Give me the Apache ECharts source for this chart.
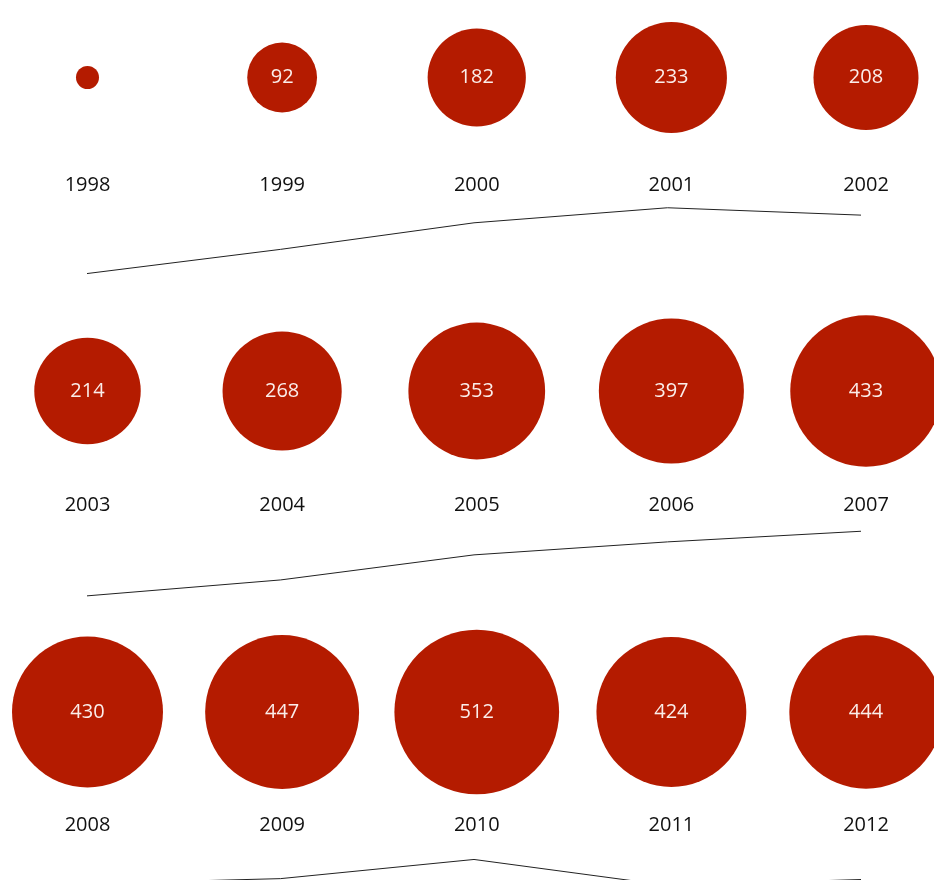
<!DOCTYPE html>
<html>
<head>
<meta charset="utf-8">
<script src="https://cdn.jsdelivr.net/npm/echarts@6/dist/echarts.min.js"></script>
<style>
  html, body { margin: 0; padding: 0; background: #fff; }
  #chart { width: 934px; height: 880px; }
</style>
</head>
<body>
<div id="chart"></div>
<script>
// ---- data ----
const years = ['1998', '1999', '2000', '2001', '2002',
               '2003', '2004', '2005', '2006', '2007',
               '2008', '2009', '2010', '2011', '2012'];
const counts = [10, 92, 182, 233, 208,
                214, 268, 353, 397, 433,
                430, 447, 512, 424, 444];
const perRow = 5;

// ---- layout (positions only) ----
const rowLayout = [
  { bubbleCenter: 75,  labelMargin: 20, lineBase: 276.5,  lineTop: 195, lineHeight: 90 },
  { bubbleCenter: 391, labelMargin: 24, lineBase: 659,    lineTop: 515, lineHeight: 90 },
  { bubbleCenter: 712, labelMargin: 23, lineBase: 1010.5, lineTop: 845, lineHeight: 35 }
];
const bubbleGridH = 160;
const pxPerUnit = 0.295;
const radiusK = 3.64;
const RED = '#b41b00';
const FONT = 'Open Sans';

const grid = [], xAxis = [], yAxis = [], series = [];
rowLayout.forEach((row, r) => {
  const ys = years.slice(r * perRow, (r + 1) * perRow);
  const vs = counts.slice(r * perRow, (r + 1) * perRow);
  // bubble grid
  const gi = grid.length;
  grid.push({ left: 87.5, right: 68, top: row.bubbleCenter - bubbleGridH / 2, height: bubbleGridH });
  xAxis.push({
    type: 'category', gridIndex: gi, data: ys, boundaryGap: false,
    axisLine: { show: false }, axisTick: { show: false }, splitLine: { show: false },
    axisLabel: { show: true, margin: row.labelMargin, fontFamily: FONT, fontSize: 20, color: '#111' }
  });
  yAxis.push({ type: 'value', gridIndex: gi, min: -1, max: 1, show: false });
  series.push({
    type: 'scatter', xAxisIndex: gi, yAxisIndex: gi, clip: false,
    data: ys.map((y, i) => [y, 0, vs[i]]),
    symbolSize: v => 2 * radiusK * Math.sqrt(v[2]),
    itemStyle: { color: RED, opacity: 1 },
    label: {
      show: true, position: 'inside',
      formatter: p => (p.value[2] >= 50 ? String(p.value[2]) : ''),
      fontFamily: FONT, fontSize: 20, color: '#fbeeea'
    },
    emphasis: { disabled: true },
    silent: true
  });
  // line grid: a shared scale of pxPerUnit, zero placed at lineBase
  const li = grid.length;
  const yMin = (row.lineBase - (row.lineTop + row.lineHeight)) / pxPerUnit;
  const yMax = (row.lineBase - row.lineTop) / pxPerUnit;
  grid.push({ left: 87, right: 73, top: row.lineTop, height: row.lineHeight });
  xAxis.push({ type: 'category', gridIndex: li, data: ys, boundaryGap: false, show: false });
  yAxis.push({ type: 'value', gridIndex: li, min: yMin, max: yMax, show: false, scale: true });
  series.push({
    type: 'line', xAxisIndex: li, yAxisIndex: li,
    data: vs, showSymbol: false, symbol: 'none', clip: false,
    lineStyle: { color: '#222', width: 1 },
    silent: true
  });
});

const chart = echarts.init(document.getElementById('chart'), null, { renderer: 'canvas' });
chart.setOption({
  animation: false,
  backgroundColor: '#fff',
  grid, xAxis, yAxis, series
});
</script>
</body>
</html>
